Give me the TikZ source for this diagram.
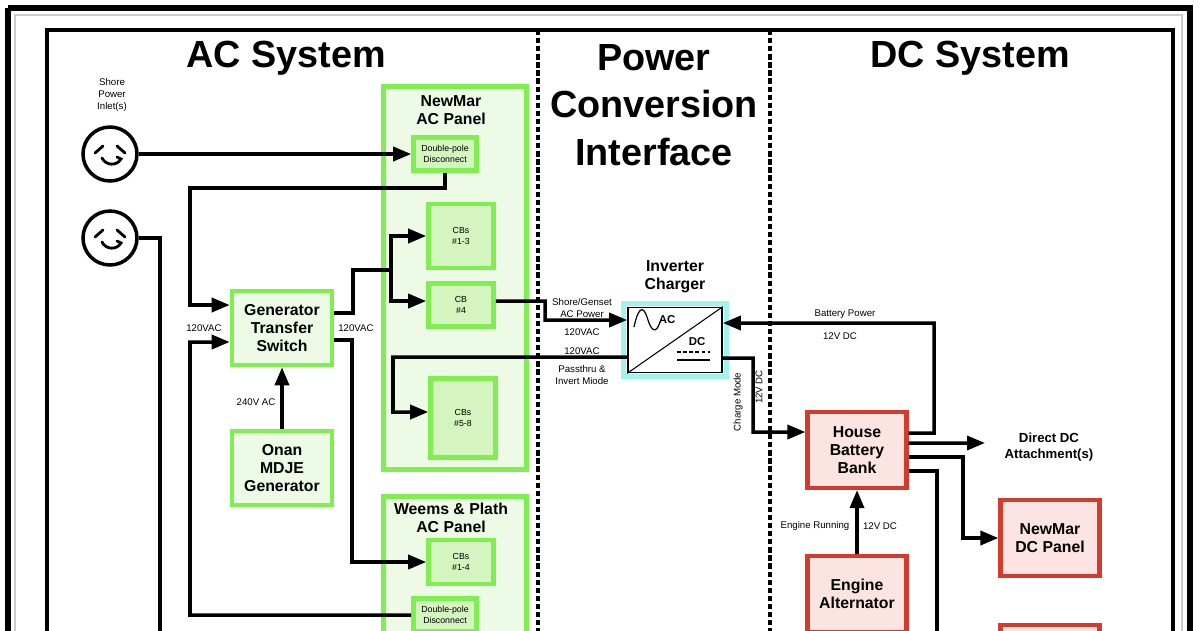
\documentclass[tikz,border=0pt]{standalone}
\usepackage{fontspec}
\setmainfont{Liberation Sans}
\usetikzlibrary{arrows.meta,positioning}
\definecolor{acgreen}{HTML}{80EE50}
\definecolor{acfill}{HTML}{EDFBE6}
\definecolor{cbfill}{HTML}{D4F4C0}
\definecolor{dcred}{HTML}{D23C2C}
\definecolor{dcfill}{HTML}{FBE4E2}
\definecolor{invcyan}{HTML}{A0F4F0}
\tikzset{
  wire/.style={line width=2pt},
  feed/.style={wire,-{Triangle[length=3.6mm,width=2.8mm]}},
  panel/.style={draw=acgreen,line width=2.6pt,fill=acfill,anchor=north west,inner sep=0pt},
  acbox/.style={draw=acgreen,line width=2.6pt,fill=cbfill,inner sep=0pt,align=center,font=\fontsize{5}{6}\selectfont},
  genbox/.style={draw=acgreen,line width=2.6pt,fill=acfill,inner sep=0pt,align=center,font=\bfseries\fontsize{9}{10.3}\selectfont,minimum width=2cm,minimum height=1.48cm},
  dcbox/.style={draw=dcred,line width=2.4pt,fill=dcfill,inner sep=0pt,align=center,font=\bfseries\fontsize{9}{10.3}\selectfont,minimum width=1.98cm,minimum height=1.52cm},
  lbl/.style={font=\fontsize{5.5}{6.6}\selectfont,align=center,inner sep=0pt},
  hdr/.style={font=\bfseries\fontsize{9}{10.3}\selectfont,align=center,inner sep=0pt},
  sect/.style={font=\bfseries\fontsize{21.5}{27}\selectfont,align=center,inner sep=0pt}
}
\begin{document}
\begin{tikzpicture}[x=0.02cm,y=-0.02cm]
\useasboundingbox (0,0) rectangle (1200,630);
% frames
\draw[line width=3pt] (8,8) -- (1190,8) -- (1190,640);
\draw[line width=3pt] (8,8) -- (8,640);
\draw[gray!40,line width=0.6pt] (15,640) -- (15,15) -- (1182,15) -- (1182,640);
\draw[line width=2.4pt] (47,640) -- (47,30) -- (1173,30) -- (1173,640);
\draw[line width=2pt,dash pattern=on 3pt off 1.6pt] (538,30) -- (538,640);
\draw[line width=2pt,dash pattern=on 3pt off 1.6pt] (770,30) -- (770,640);
\node[sect] (acsys) at (286,58) {AC System};
\node[sect] (pci) at (654,105) {Power\\Conversion\\Interface};
\node[sect] (dcsys) at (970,58) {DC System};

% AC panels
\node[panel,minimum width=2.86cm,minimum height=7.66cm] (acpanel) at (381,84) {};
\node[hdr] (acpanelt) at (451,110) {NewMar\\AC Panel};
\node[panel,minimum width=2.86cm,minimum height=3cm] (wppanel) at (381,494) {};
\node[hdr] (wppanelt) at (451,518) {Weems \& Plath\\AC Panel};
\node[acbox,minimum width=1.26cm,minimum height=0.66cm] (dpd) at (445,154) {Double-pole\\Disconnect};
\node[acbox,minimum width=1.3cm,minimum height=1.28cm] (cba) at (461,236) {CBs\\\#1-3};
\node[acbox,minimum width=1.3cm,minimum height=0.86cm] (cbb) at (461,305) {CB\\\#4};
\node[acbox,minimum width=1.3cm,minimum height=1.58cm] (cbc) at (463,418) {CBs\\\#5-8};
\node[acbox,minimum width=1.3cm,minimum height=0.88cm] (cbd) at (461,562) {CBs\\\#1-4};
\node[acbox,minimum width=1.26cm,minimum height=0.66cm] (dpdb) at (445,615) {Double-pole\\Disconnect};

% shore inlets
\node[lbl] (inlett) at (112,95) {Shore\\Power\\Inlet(s)};
\foreach \n/\y in {inleta/154,inletb/238} {
  \node[draw,circle,line width=2pt,minimum size=1.08cm] (\n) at (110,\y) {};
  \draw[line width=1.6pt,line cap=round] (95,\y-1) -- (103,\y-8) (117,\y-8) -- (125,\y-1)
    (102,\y+4) .. controls (106,\y+12) and (117,\y+12) .. (121,\y+5) -- (117,\y+3);
}

% generator side
\node[genbox] (gts) at (282,328) {Generator\\Transfer\\Switch};
\node[genbox] (onan) at (282,468) {Onan\\MDJE\\Generator};

% inverter
\node[draw=invcyan,line width=2.6pt,minimum width=2.06cm,minimum height=1.46cm,inner sep=0pt] (inv) at (675,340) {};
\node[draw,line width=1pt,minimum width=1.88cm,minimum height=1.3cm,inner sep=0pt] (invin) at (675,340) {};
\node[hdr] (invt) at (675,277) {Inverter\\Charger};
\draw[line width=0.6pt] (invin.south west) -- (invin.north east);
\draw[line width=0.7pt] (634,327) .. controls (640,300) and (645,310) .. (648,320) .. controls (651,330) and (656,335) .. (660,322);
\node[font=\bfseries\fontsize{6.5}{7}\selectfont,inner sep=0pt] (acl) at (667,320) {AC};
\node[font=\bfseries\fontsize{6.5}{7}\selectfont,inner sep=0pt] (dcl) at (697,342) {DC};
\draw[line width=0.6pt,dash pattern=on 2pt off 1.5pt] (677,352) -- (710,352);
\draw[line width=0.6pt] (677,360) -- (710,360);

% DC side
\node[dcbox] (hbb) at (857,450) {House\\Battery\\Bank};
\node[dcbox] (alt) at (857,594) {Engine\\Alternator};
\node[dcbox] (dcp) at (1050,538) {NewMar\\DC Panel};
\node[dcbox,anchor=north] (dcq) at (1050,623) {};
\node[font=\bfseries\fontsize{7.5}{9}\selectfont,align=center,inner sep=0pt] (ddc) at (1049,447) {Direct DC\\Attachment(s)};
\coordinate (dcend) at (937,640);
\coordinate (inbend) at (160,640);

% connectors
\draw[feed] (inleta.east) -- (dpd.west);
\draw[feed] (dpd.south) |- (190,188) |- ([yshift=0.46cm]gts.west);
\draw[wire] (inletb.east) -| (inbend);
\draw[feed] (dpdb.west) -| (190,342) -- ([yshift=-0.28cm]gts.west);
\node[lbl] (lacl) at (204,328) {120VAC};
\node[lbl] (lacr) at (356,328) {120VAC};
\draw[wire] ([yshift=0.3cm]gts.east) -| (353,270) -| (391,270);
\draw[feed] (391,270) |- (cba.west);
\draw[feed] (391,270) |- ([yshift=0.08cm]cbb.west);
\draw[feed] ([yshift=-0.24cm]gts.east) -| (352,562) -- (cbd.west);
\draw[feed] (onan.north) -- (gts.south);
\node[lbl] (l240) at (256,402) {240V AC};
\draw[feed] ([yshift=0.08cm]cbb.east) -| (545,320) -- ([yshift=0.4cm]invin.west);
\node[lbl] (lsg) at (582,308) {Shore/Genset\\AC Power};
\node[lbl] (lsgv) at (582,332) {120VAC};
\draw[feed] ([yshift=-0.34cm]invin.west) -| (393,412) -- ([yshift=0.12cm]cbc.west);
\node[lbl] (lpt) at (582,351) {120VAC};
\node[lbl] (lptm) at (582,375) {Passthru \&\\Invert Miode};
\draw[feed] ([yshift=-0.36cm]invin.east) -| (753,432) -- ([yshift=0.36cm]hbb.west);
\node[lbl,rotate=90] (lcm) at (738,402) {Charge Mode};
\node[lbl,rotate=90] (lcmv) at (759,387) {12V DC};
\draw[feed] ([yshift=0.34cm]hbb.east) -| (934,323) -- ([yshift=0.34cm]invin.east);
\node[lbl] (lbp) at (845,314) {Battery Power};
\node[lbl] (lbpv) at (840,336) {12V DC};
\draw[feed] ([yshift=0.14cm]hbb.east) -- (985,443);
\draw[feed] ([yshift=-0.14cm]hbb.east) -| (963,538) -- (dcp.west);
\draw[wire] ([yshift=-0.42cm]hbb.east) -| (dcend);
\draw[feed] (alt.north) -- (hbb.south);
\node[lbl] (ler) at (815,526) {Engine Running};
\node[lbl] (lerv) at (880,526) {12V DC};
\end{tikzpicture}
\end{document}
